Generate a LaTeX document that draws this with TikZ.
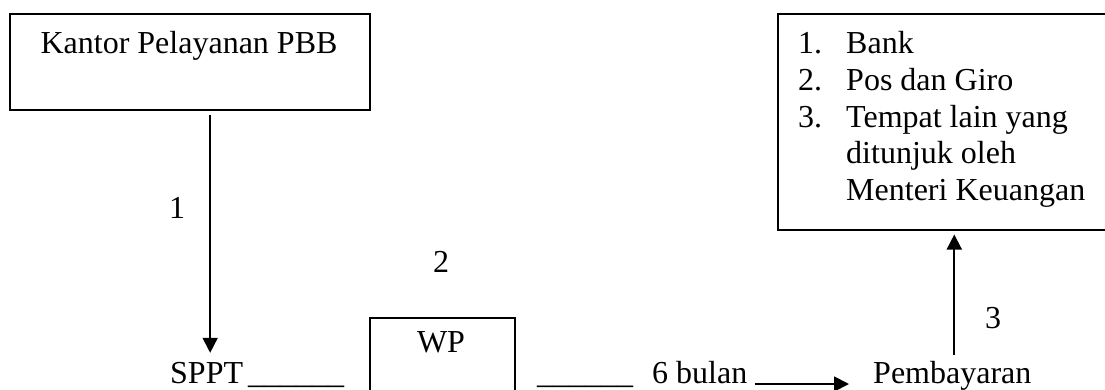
\documentclass[tikz,border=0pt]{standalone}
\usepackage{fontspec}
\setmainfont{Liberation Serif}
\usetikzlibrary{arrows.meta,calc}
\begin{document}
\begin{tikzpicture}[x=1pt,y=-1pt,
  txt/.style={inner sep=0pt, anchor=base, font=\fontsize{32}{38}\selectfont},
  ltxt/.style={txt, anchor=base west},
  box/.style={draw, line width=1.5pt, inner sep=0pt, anchor=north west},
  arr/.style={line width=1.8pt, -{Triangle[width=15pt,length=15pt]}}]
\useasboundingbox (0,0) rectangle (1105,389);
\clip (0,0) rectangle (1105,389);
% boxes
\node[box, minimum width=360pt, minimum height=96pt] (kpp) at (9,13) {};
\node[box, minimum width=145pt, minimum height=100pt] (wp) at (369,317) {};
\node[box, minimum width=340pt, minimum height=216pt] (rb) at (777,13) {};
% box texts
\node[txt] (kpptxt) at (189,53) {Kantor Pelayanan PBB};
\node[txt] (wptxt) at (441,352) {WP};
\node[ltxt] (n1) at (798,53) {1.};
\node[ltxt] (t1) at (846,53) {Bank};
\node[ltxt] (n2) at (798,90) {2.};
\node[ltxt] (t2) at (846,90) {Pos dan Giro};
\node[ltxt] (n3) at (798,127) {3.};
\node[ltxt] (t3) at (846,127) {Tempat lain yang};
\node[ltxt] (t4) at (846,163) {ditunjuk oleh};
\node[ltxt] (t5) at (846,200) {Menteri Keuangan};
% bottom row
\node[ltxt] (sppt) at (170,383) {SPPT};
\node[ltxt] (u1) at (248,383) {\_\_\_\_\_\_};
\node[ltxt] (u2) at (537,383) {\_\_\_\_\_\_};
\node[ltxt] (bulan) at (652,383) {6 bulan};
\node[ltxt] (pemb) at (873,383) {Pembayaran};
% step labels
\node[txt] (s1) at (177,218) {1};
\node[txt] (s2) at (441,272) {2};
\node[txt] (s3) at (993,328) {3};
% arrows
\draw[arr] ($(sppt.north |- kpp.south)+(3.5,4)$) -- ($(sppt.north)+(3.5,-8.8)$);
\draw[arr] ($(bulan.base east)+(7,1)$) -- ($(pemb.base west)+(-24,1)$);
\draw[arr] ($(pemb.north)+(2,-6)$) -- ($(pemb.north |- rb.south)+(2,4)$);
\end{tikzpicture}
\end{document}
